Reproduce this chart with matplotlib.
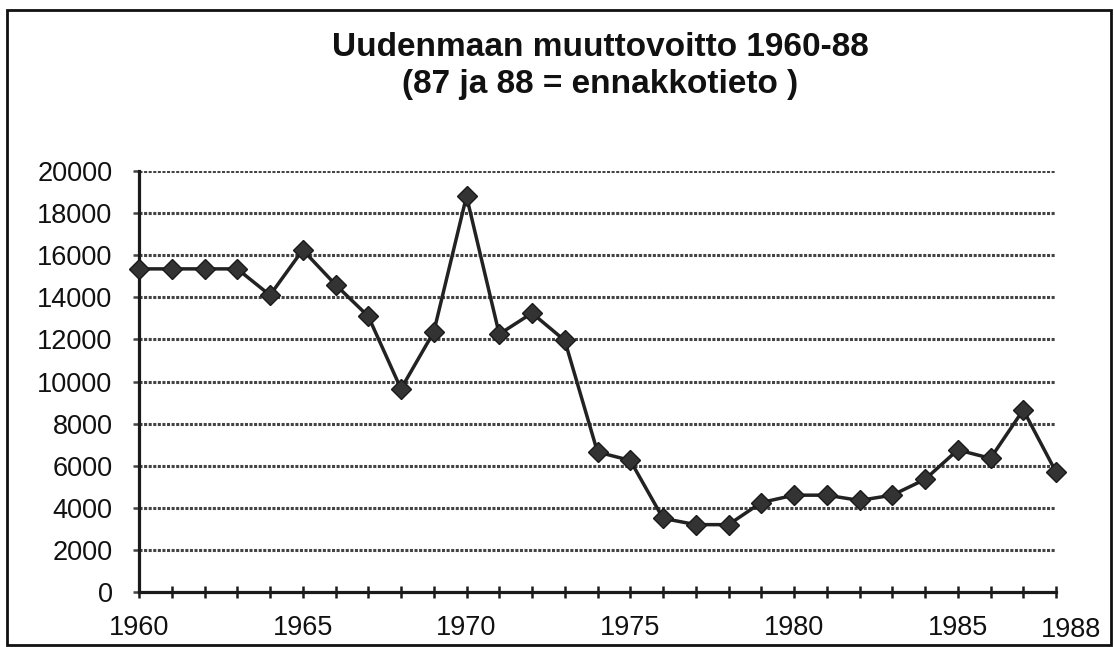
import matplotlib
matplotlib.use("Agg")
import matplotlib.pyplot as plt
from matplotlib.patches import Rectangle

years = list(range(1960, 1989))
values = [15350, 15350, 15350, 15350, 14100, 16250, 14600, 13100, 9650, 12350,
          18800, 12250, 13250, 11950, 6650, 6250, 3500, 3200, 3200, 4250,
          4600, 4600, 4350, 4600, 5350, 6750, 6350, 8650, 5700]
y_ticks = [0, 2000, 4000, 6000, 8000, 10000, 12000, 14000, 16000, 18000, 20000]
x_labeled = [1960, 1965, 1970, 1975, 1980, 1985]
title1 = "Uudenmaan muuttovoitto 1960-88"
title2 = "(87 ja 88 = ennakkotieto )"

plt.rcParams['font.family'] = ['Liberation Sans', 'DejaVu Sans']

W, H = 1114, 647
fig = plt.figure(figsize=(W / 100, H / 100), dpi=100)
fig.patch.set_facecolor('white')

# outer frame
fig.add_artist(Rectangle((7 / W, 1 - 645 / H), (1111 - 7) / W, (645 - 10) / H,
                         transform=fig.transFigure, fill=False,
                         edgecolor='#111111', linewidth=2.0))

left, right, top, bottom = 139, 1056, 171, 592
ax = fig.add_axes([left / W, 1 - bottom / H, (right - left) / W, (bottom - top) / H])
ax.set_xlim(1960, 1988)
ax.set_ylim(0, 20000)

for yv in y_ticks[1:]:
    ax.axhline(yv, color='#444444', linewidth=2.2, linestyle=(0, (1.0, 0.5)), zorder=1)

ax.plot(years, values, color='#222222', linewidth=2.5, marker='D',
        markersize=10.5, markerfacecolor='#333333', markeredgecolor='#1a1a1a',
        markeredgewidth=1.0, zorder=3, clip_on=False)

for s in ['top', 'right']:
    ax.spines[s].set_visible(False)
for s in ['left', 'bottom']:
    ax.spines[s].set_color('#1a1a1a')
    ax.spines[s].set_linewidth(2.3)

ax.set_yticks(y_ticks)
ax.set_yticklabels([str(v) for v in y_ticks])
ax.tick_params(axis='y', direction='out', length=4, width=1.8, color='#444444',
               labelsize=19.5, pad=15, labelcolor='#111111')

ax.set_xticks(years)
ax.set_xticklabels([str(y) if y in x_labeled else '' for y in years])
ax.tick_params(axis='x', direction='inout', length=9, width=1.8, color='#1a1a1a',
               labelsize=19.5, pad=12, labelcolor='#111111')
ax.annotate(str(years[-1]), xy=(years[-1], 0), xycoords='data',
            xytext=(11, -18), textcoords='offset points',
            ha='center', va='top', fontsize=19.5, color='#111111',
            annotation_clip=False)

fig.text(600 / W, 1 - 48 / H, title1, ha='center', va='center',
         fontsize=24, fontweight='bold', color='#111111')
fig.text(600 / W, 1 - 85 / H, title2, ha='center', va='center',
         fontsize=24, fontweight='bold', color='#111111')

fig.savefig('out.png', dpi=100)
